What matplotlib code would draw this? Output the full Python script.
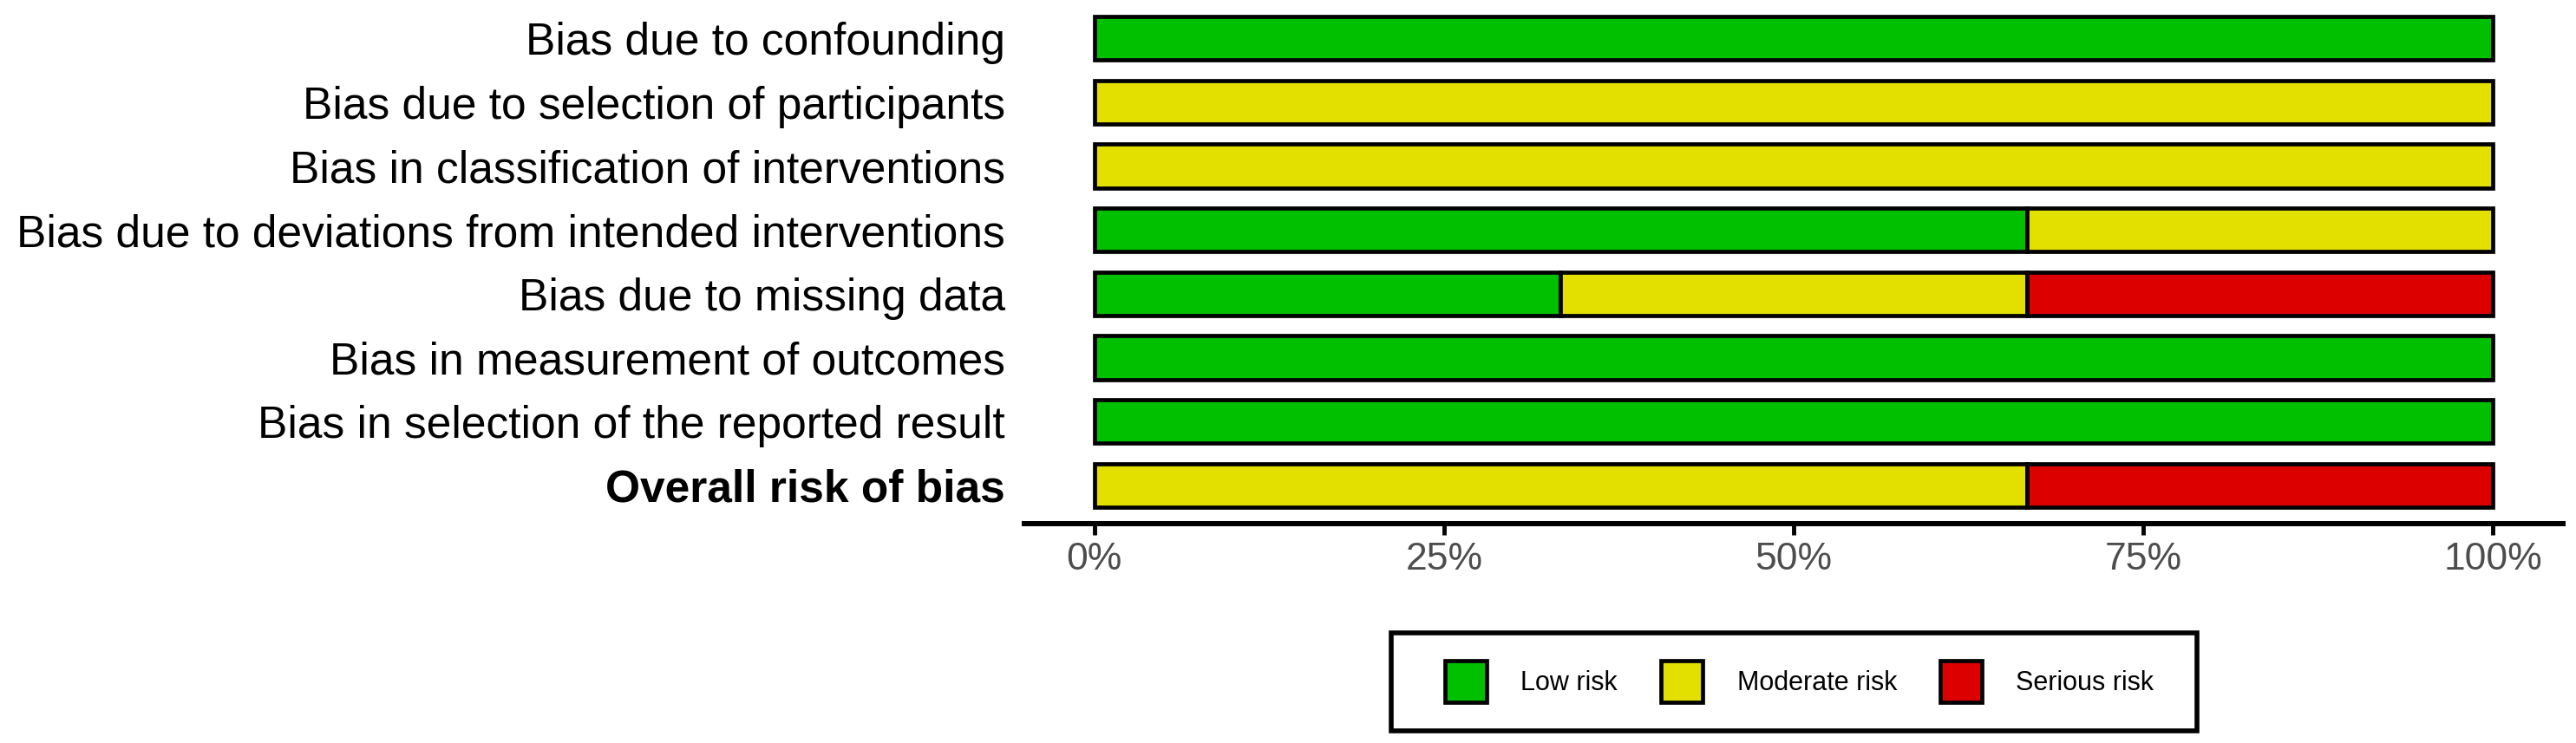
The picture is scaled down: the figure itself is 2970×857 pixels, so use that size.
import matplotlib as mpl
mpl.use('Agg')
import matplotlib.pyplot as plt
from matplotlib.patches import Patch, Rectangle
import numpy as np

plt.rcParams['font.family'] = ['Liberation Sans', 'DejaVu Sans']

# risk of bias domains, top to bottom
domains = [
    "Bias due to confounding",
    "Bias due to selection of participants",
    "Bias in classification of interventions",
    "Bias due to deviations from intended interventions",
    "Bias due to missing data",
    "Bias in measurement of outcomes",
    "Bias in selection of the reported result",
    "Overall risk of bias",
]
risk_levels = ["Low risk", "Moderate risk", "Serious risk"]
risk_colors = ["#00C000", "#E3E000", "#DD0000"]

# number of studies per judgement (3 studies in total)
low_counts = [3, 0, 0, 2, 1, 3, 3, 0]
moderate_counts = [0, 3, 3, 1, 1, 0, 0, 2]
serious_counts = [0, 0, 0, 0, 1, 0, 0, 1]
n_studies = 3

W, H = 2970, 857
fig = plt.figure(figsize=(W / 100, H / 100), dpi=100)
ax = fig.add_axes([1181 / W, 1 - 604 / H, (2955 - 1181) / W, 604 / H])

y_pos = np.arange(len(domains))
left = np.zeros(len(domains))
for counts, color in zip([low_counts, moderate_counts, serious_counts], risk_colors):
    share = np.array(counts) / n_studies
    mask = share > 0
    ax.barh(y_pos[mask], share[mask], left=left[mask], height=0.68,
            color=color, edgecolor='black', linewidth=3.4)
    left += share

ax.set_xlim(-0.05, 1.05)
ax.set_ylim(len(domains) - 1 + 0.6, -0.6)

for side in ['top', 'right', 'left']:
    ax.spines[side].set_visible(False)
ax.spines['bottom'].set_linewidth(4.3)

x_ticks = [0, 0.25, 0.5, 0.75, 1.0]
ax.set_xticks(x_ticks)
ax.set_xticklabels([f"{int(t * 100)}%" for t in x_ticks])
ax.tick_params(axis='x', length=9, width=3.5, color='black',
               labelsize=32, labelcolor='#4D4D4D', pad=6)

ax.set_yticks(y_pos)
ax.set_yticklabels(domains)
ax.tick_params(axis='y', length=0, labelsize=37.1, labelcolor='black', pad=16)
ax.get_yticklabels()[-1].set_fontweight('bold')

handles = [Patch(facecolor=c, edgecolor='black', linewidth=3.4, label=l)
           for c, l in zip(risk_colors, risk_levels)]
leg = fig.legend(handles=handles, loc='center', bbox_to_anchor=(0.6985, 0.0823),
                 ncol=3, fontsize=22, frameon=False,
                 handlelength=1.57, handleheight=2.04,
                 handletextpad=1.3, columnspacing=1.63, borderpad=1.05)

# legend frame: a bit wider than the legend's own padding
fig.canvas.draw()
bb = leg.get_window_extent()
frame = Rectangle((bb.x0 - 30, bb.y0), bb.width + 48, bb.height, transform=None,
                  fill=False, edgecolor='black', linewidth=4)
fig.add_artist(frame)

fig.savefig('out.png', dpi=100)
